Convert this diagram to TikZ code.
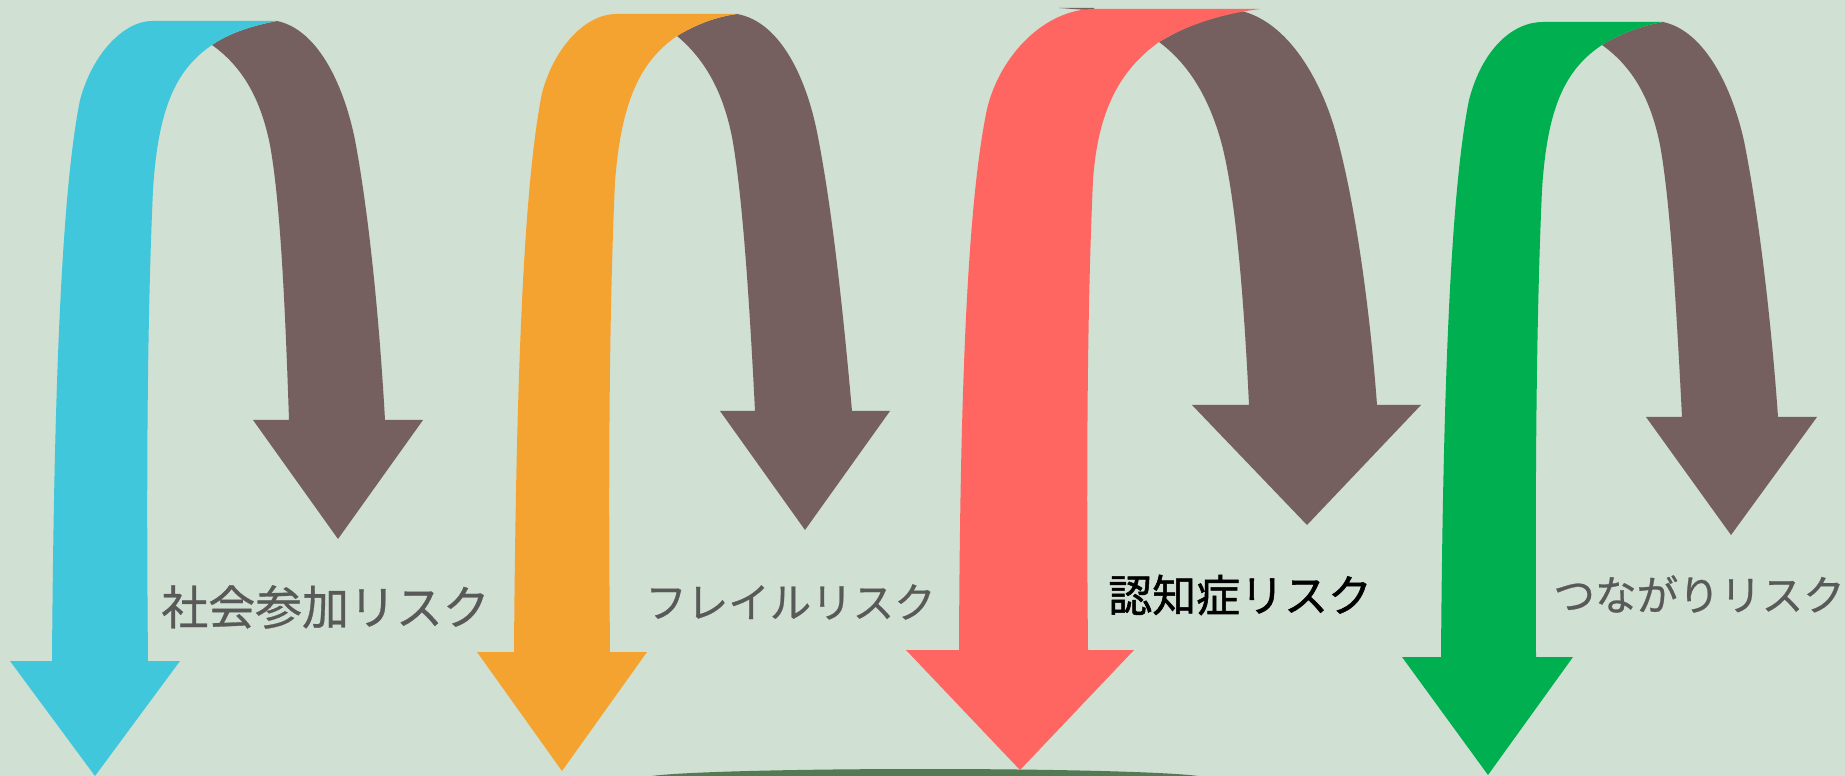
\documentclass[tikz,border=0pt]{standalone}
\usepackage{fontspec}
\usepackage{tikz}
\newfontfamily\jpfont{Noto Sans CJK JP}[FakeBold=0.6]
\newfontfamily\jpheavy{Noto Sans CJK JP}[FakeBold=1.2]

\definecolor{bgcol}{RGB}{208,224,210}
\definecolor{backbrown}{RGB}{118,96,95}
\definecolor{riskcyan}{RGB}{64,199,219}
\definecolor{riskorange}{RGB}{245,163,48}
\definecolor{riskred}{RGB}{255,102,97}
\definecolor{riskgreen}{RGB}{0,175,80}
\definecolor{arcgreen}{RGB}{82,122,84}
\definecolor{textgrey}{RGB}{89,89,89}

\begin{document}
\begin{tikzpicture}[x=0.02cm, y=-0.02cm,
    back/.style={fill=backbrown},
    risktext/.style={anchor=west, inner sep=0pt, text=textgrey}]
    % Background
        \fill[bgcol] (0,0) rectangle (1845,776);
        \useasboundingbox (0,0) rectangle (1845,776);
    % Cyan arrow: back side first, then the front
        \fill[back] (277,21) .. controls (320,30) and (345,90) .. (355,140)
            .. controls (370,220) and (380,330) .. (385,420)
            -- (423,420) -- (338,539) -- (253,420) -- (289,420)
            .. controls (285,300) and (280,200) .. (270,145)
            .. controls (260,95) and (240,65) .. (212,45)
            .. controls (228,34) and (250,26) .. (277,21) -- cycle;
        \fill[riskcyan] (52,661) .. controls (54,380) and (62,190) .. (80,100)
            .. controls (93,52) and (125,21) .. (152,21) -- (277,21)
            .. controls (250,26) and (228,34) .. (212,45)
            .. controls (175,70) and (158,110) .. (153,190)
            .. controls (148,300) and (146,450) .. (148,661)
            -- (180,661) -- (95,776) -- (10,661) -- cycle;
    % Orange arrow
        \fill[back] (737,14) .. controls (782,22) and (807,82) .. (817,132)
            .. controls (833,212) and (844,322) .. (852,411)
            -- (890,411) -- (805,530) -- (720,411) -- (755,411)
            .. controls (749,292) and (742,192) .. (732,137)
            .. controls (722,87) and (702,57) .. (677,36)
            .. controls (695,25) and (715,17) .. (737,14) -- cycle;
        \fill[riskorange] (514,652) .. controls (516,373) and (524,183) .. (542,93)
            .. controls (555,45) and (587,14) .. (616,14) -- (737,14)
            .. controls (715,17) and (695,25) .. (677,36)
            .. controls (639,62) and (621,104) .. (615,182)
            .. controls (610,292) and (608,442) .. (610,652)
            -- (647,652) -- (562,771) -- (477,652) -- cycle;
    % Red arrow, the wide one
        \fill[back] (1237,10) .. controls (1290,20) and (1322,85) .. (1335,130)
            .. controls (1355,200) and (1370,310) .. (1377,405)
            -- (1421,405) -- (1307,525) -- (1192,405) -- (1249,405)
            .. controls (1244,300) and (1236,200) .. (1222,145)
            .. controls (1210,100) and (1190,65) .. (1159,42)
            .. controls (1185,27) and (1212,14) .. (1237,10) -- cycle;
        \fill[back] (1059,8) -- (1094,8) -- (1094,10.5) -- cycle;
        \fill[riskred] (959,650) .. controls (960,380) and (968,200) .. (987,109)
            .. controls (1000,55) and (1045,9) .. (1094,9) -- (1260,9)
            .. controls (1220,14) and (1185,26) .. (1159,42)
            .. controls (1120,70) and (1098,110) .. (1093,180)
            .. controls (1088,290) and (1086,440) .. (1088,650)
            -- (1134,650) -- (1020,770) -- (906,650) -- cycle;
    % Green arrow
        \fill[back] (1663,22) .. controls (1706,31) and (1733,91) .. (1744,141)
            .. controls (1760,221) and (1772,331) .. (1778,417)
            -- (1817,417) -- (1731,535) -- (1646,417) -- (1682,417)
            .. controls (1676,300) and (1670,200) .. (1660,145)
            .. controls (1650,95) and (1630,65) .. (1602,45)
            .. controls (1620,34) and (1640,26) .. (1663,22) -- cycle;
        \fill[riskgreen] (1441,657) .. controls (1443,380) and (1451,190) .. (1469,100)
            .. controls (1482,50) and (1512,22) .. (1543,22) -- (1663,22)
            .. controls (1640,26) and (1620,34) .. (1602,45)
            .. controls (1564,70) and (1547,110) .. (1542,190)
            .. controls (1537,300) and (1535,450) .. (1536,657)
            -- (1573,657) -- (1488,775) -- (1402,657) -- cycle;
    % Arc at the bottom edge
        \begin{scope}
            \clip (0,0) rectangle (1845,776);
            \fill[arcgreen] (925,778) ellipse (280 and 9);
        \end{scope}
    % Labels
        \node[risktext, font=\jpfont\fontsize{26.7pt}{30pt}\selectfont] (shakai) at (161,607) {社会参加リスク};
        \node[risktext, font=\jpfont\fontsize{23.6pt}{28pt}\selectfont] (frail) at (645,602) {フレイルリスク};
        \node[risktext, text=black, font=\jpheavy\fontsize{25pt}{29pt}\selectfont] (ninchi) at (1108,595) {認知症リスク};
        \node[risktext, font=\jpfont\fontsize{23.7pt}{28pt}\selectfont] (tsunagari) at (1553,594) {つながりリスク};
\end{tikzpicture}
\end{document}
